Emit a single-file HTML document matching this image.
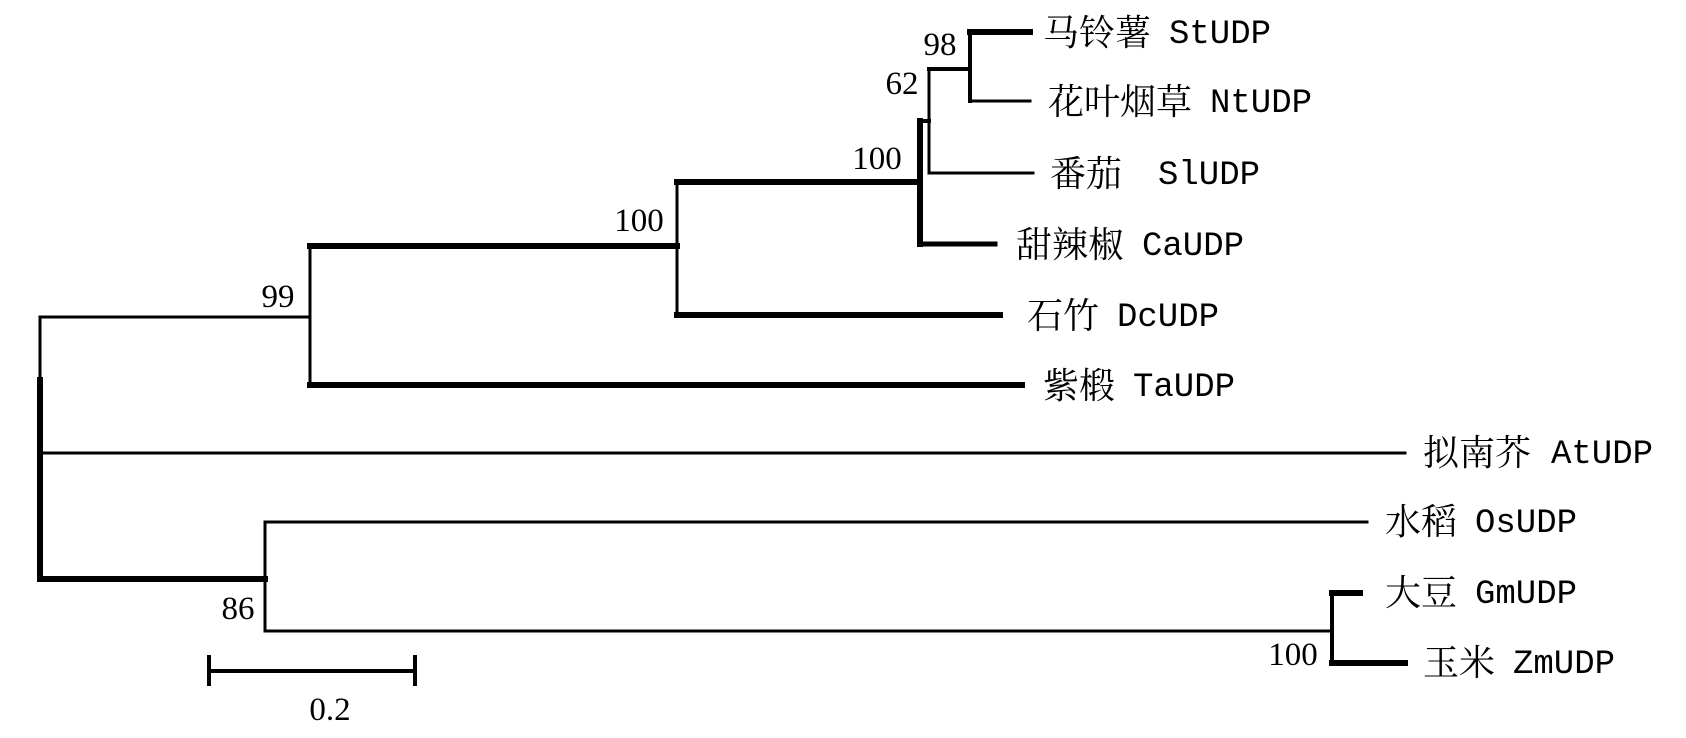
<!DOCTYPE html>
<html><head><meta charset="utf-8"><style>
html,body{margin:0;padding:0;background:#fff;}
svg{display:block;}
text{font-family:"Liberation Serif","Noto Serif CJK SC",serif;font-size:33px;fill:#000;}
.c{font-family:"Noto Serif CJK SC","WenQuanYi Zen Hei",serif;font-size:36px;}
.l{font-family:"Liberation Mono",monospace;font-size:34px;}
</style></head><body>
<svg width="1686" height="738" viewBox="0 0 1686 738" xmlns="http://www.w3.org/2000/svg">
<g stroke="#000" fill="none" stroke-linecap="square">
<line x1="40" y1="317" x2="40" y2="380" stroke-width="3"/>
<line x1="40" y1="380" x2="40" y2="579" stroke-width="6"/>
<line x1="40" y1="317" x2="310" y2="317" stroke-width="3"/>
<line x1="40" y1="453" x2="1405" y2="453" stroke-width="3"/>
<line x1="40" y1="579" x2="265" y2="579" stroke-width="6"/>
<line x1="310" y1="246" x2="310" y2="385" stroke-width="3"/>
<line x1="310" y1="246" x2="677" y2="246" stroke-width="6"/>
<line x1="310" y1="385" x2="1022" y2="385" stroke-width="6"/>
<line x1="677" y1="182" x2="677" y2="315" stroke-width="3"/>
<line x1="677" y1="182" x2="920" y2="182" stroke-width="6"/>
<line x1="677" y1="315" x2="1000" y2="315" stroke-width="6"/>
<line x1="920" y1="121" x2="920" y2="244" stroke-width="6"/>
<line x1="920" y1="121" x2="929" y2="121" stroke-width="4"/>
<line x1="920" y1="244" x2="995" y2="244" stroke-width="5"/>
<line x1="929" y1="69" x2="929" y2="173" stroke-width="3"/>
<line x1="929" y1="69" x2="970" y2="69" stroke-width="4"/>
<line x1="929" y1="173" x2="1033" y2="173" stroke-width="3"/>
<line x1="970" y1="32" x2="970" y2="101" stroke-width="4"/>
<line x1="970" y1="32" x2="1030" y2="32" stroke-width="6"/>
<line x1="970" y1="101" x2="1030" y2="101" stroke-width="3"/>
<line x1="265" y1="522" x2="265" y2="631" stroke-width="3"/>
<line x1="265" y1="522" x2="1367" y2="522" stroke-width="3"/>
<line x1="265" y1="631" x2="1332" y2="631" stroke-width="3"/>
<line x1="1332" y1="593" x2="1332" y2="663" stroke-width="4"/>
<line x1="1332" y1="593" x2="1360" y2="593" stroke-width="6"/>
<line x1="1332" y1="663" x2="1405" y2="663" stroke-width="6"/>
<line x1="209" y1="671" x2="415" y2="671" stroke-width="4"/>
<line x1="209" y1="657" x2="209" y2="684" stroke-width="4"/>
<line x1="415" y1="657" x2="415" y2="684" stroke-width="4"/>
</g>
<g>
<text class="c" x="1043" y="45">马铃薯</text><text class="l" x="1169" y="43">StUDP</text>
<text class="c" x="1048" y="114">花叶烟草</text><text class="l" x="1210" y="112">NtUDP</text>
<text class="c" x="1050" y="186">番茄</text><text class="l" x="1158" y="184">SlUDP</text>
<text class="c" x="1016" y="257">甜辣椒</text><text class="l" x="1142" y="255">CaUDP</text>
<text class="c" x="1027" y="328">石竹</text><text class="l" x="1117" y="326">DcUDP</text>
<text class="c" x="1043" y="398">紫椴</text><text class="l" x="1133" y="396">TaUDP</text>
<text class="c" x="1423" y="465">拟南芥</text><text class="l" x="1551" y="463">AtUDP</text>
<text class="c" x="1385" y="534">水稻</text><text class="l" x="1475" y="532">OsUDP</text>
<text class="c" x="1385" y="605">大豆</text><text class="l" x="1475" y="603">GmUDP</text>
<text class="c" x="1423" y="675">玉米</text><text class="l" x="1513" y="673">ZmUDP</text>
</g>
<g text-anchor="middle">
<text x="940" y="55">98</text>
<text x="902" y="94">62</text>
<text x="877" y="169">100</text>
<text x="639" y="231">100</text>
<text x="278" y="307">99</text>
<text x="238" y="619">86</text>
<text x="1293" y="665">100</text>
<text x="330" y="720">0.2</text>
</g>
</svg>
</body></html>
